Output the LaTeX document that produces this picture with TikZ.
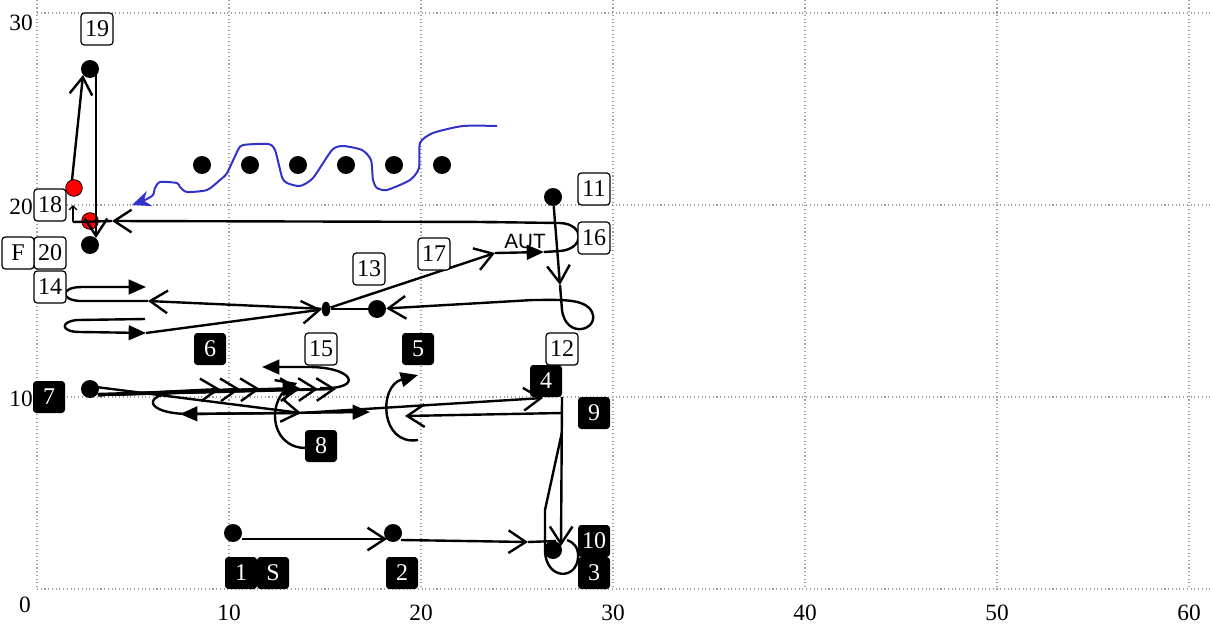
\documentclass[tikz,border=0pt]{standalone}
\usepackage{fontspec}
\setmainfont{Liberation Serif}
\newfontfamily\autfont{Liberation Sans}
\usetikzlibrary{arrows.meta,calc,shapes.geometric}
\begin{document}
\begin{tikzpicture}[x=0.75pt,y=-0.75pt,
  gridl/.style={gray!75, dotted, line width=0.8pt},
  axl/.style={font=\fontsize{17.5}{17.5}\selectfont, inner sep=0pt},
  dot/.style={circle, fill=black, inner sep=0pt, minimum size=13.5pt},
  reddot/.style={circle, fill=red, draw=black, line width=0.6pt, inner sep=0pt, minimum size=12.5pt},
  smalldot/.style={ellipse, fill=black, inner sep=0pt, minimum width=6.5pt, minimum height=11pt},
  boxbase/.style={rectangle, rounded corners=2.5pt, minimum width=24pt, minimum height=24pt, inner sep=1pt, font=\fontsize{18}{18}\selectfont},
  blk/.style={boxbase, fill=black, text=white},
  wht/.style={boxbase, fill=white, draw=black, line width=0.9pt},
  ln/.style={line width=1.8pt, line join=round},
  pass/.style={ln, -{Straight Barb[length=13pt,width=17pt]}},
  passfill/.style={ln, -{Triangle[length=13pt,width=11pt]}},
  thinarrow/.style={line width=1pt, -{Straight Barb[length=3pt,width=6pt]}},
  blueline/.style={line width=1.5pt, draw={rgb,255:red,50;green,50;blue,200}, -{Stealth[length=14pt,width=12pt]}}
]
\useasboundingbox (0,0) rectangle (1210,635);
% grid
\foreach \gx in {37,229,421,613,805,997,1189} \draw[gridl] (\gx,0) -- (\gx,589);
\foreach \gy in {13,205,397,589} \draw[gridl] (37,\gy) -- (1210,\gy);
% axis labels
\node[axl, anchor=east] (ay30) at (33,23) {30};
\node[axl, anchor=east] (ay20) at (33,207) {20};
\node[axl, anchor=east] (ay10) at (33,399) {10};
\node[axl] (a0) at (25,605) {0};
\foreach \gx/\t in {229/10,421/20,613/30,805/40,997/50,1189/60} \node[axl] (ax\t) at (\gx,613) {\t};
% dots
\node[dot] (d1) at (233,533) {};
\node[dot] (d2) at (393,533) {};
\node[dot] (d3) at (553,550) {};
\node[dot] (d7) at (90,389) {};
\node[dot] (d11) at (553,197) {};
\node[dot] (d13) at (377,309) {};
\node[dot] (d19) at (90,69) {};
\node[dot] (d20) at (90,245) {};
\node[smalldot] (s) at (326,309) {};
\foreach \i/\rx in {1/202,2/250,3/298,4/346,5/394,6/442} \node[dot] (r\i) at (\rx,165) {};
\node[reddot] (red18) at (74,188) {};
\node[reddot] (red20) at (90,221) {};
% helper coordinates
\coordinate (c4) at (562,397);
\coordinate (c9) at (562,413);
\coordinate (c2) at (528,542);
\coordinate (c4b) at (543,398);
\coordinate (c11) at (560,285);
\coordinate (c12) at (533,300);
\coordinate (c14a) at (148,301);
\coordinate (c14b) at (146,333);
\coordinate (c17) at (495,253);
\coordinate (c16) at (544,252);
\coordinate (c18) at (112,221);
\coordinate (c18b) at (73,222);
% bottom passes
\draw[pass] ($(d1)+(9,6)$) -- ($(d2)+(-6,6)$);
\draw[pass] ($(d2)+(8,7)$) -- (c2);
\draw[ln] (c2) -- ($(d3)+(3,-9)$);
\draw[pass] (c4) -- ($(d3)+(8,-4)$);
\draw[ln] (562,432) -- (545,510) -- (545,552) .. controls (547,580) and (576,580) .. (578,558) .. controls (579,547) and (573,542) .. (567,540);
% middle band
\draw[pass] (c9) -- (405,416);
\draw[pass] (300,413) -- (c4b);
\draw[passfill] (418,440) .. controls (380,446) and (378,386) .. (418,375);
\foreach \t in {220,240,260,300,318,336} \draw[pass] ($(d7)+(8,6)$) -- (\t,389);
\draw[passfill] ($(d7)+(8,5)$) -- (300,388);
\draw[pass] ($(d7)+(6,-2)$) -- (301,413);
\draw[passfill] (180,392) .. controls (140,394) and (145,414) .. (190,414) -- (370,412);
\draw[passfill] (300,413) -- (180,414);
\draw[passfill] (320,388) .. controls (365,390) and (355,366) .. (305,367) -- (262,367);
\draw[pass] (306,448) .. controls (268,448) and (266,396) .. (297,383);
% upper band
\draw[pass] (d11) -- (c11);
\draw[ln] (c11) -- (562,310) .. controls (566,340) and (600,330) .. (592,312) .. controls (585,298) and (560,300) .. (c12);
\draw[pass] (c12) -- (d13);
\draw[ln] (d13) -- (s);
\draw[pass] (s) -- (c14a);
\draw[passfill] (c14a) -- (80,301) .. controls (60,300) and (60,287) .. (82,287) -- (146,287);
\draw[passfill] (145,319) -- (78,320) .. controls (60,321) and (60,332) .. (80,332) -- (c14b);
\draw[pass] (c14b) -- (s);
\draw[pass] (s) -- (c17);
\draw[passfill] (c17) -- (c16);
\draw[ln] (c16) -- (560,251) .. controls (585,249) and (585,224) .. (560,223) -- (482,222);
\draw[pass] (497,222) -- (c18);
\draw[ln] (c18) -- (c18b);
\draw[thinarrow] (c18b) -- (73,205);
\draw[pass] ($(red18)+(-2,-8)$) -- ($(d19)+(-7,6)$);
\draw[pass] ($(d19)+(6,0)$) -- ($(d20)+(6,-7)$);
% blue run
\draw[blueline] plot[smooth, tension=0.4] coordinates {(497,126) (463,126) (433,133) (420,143) (419,168) (410,180) (387,190) (377,188) (373,180) (371,160) (362,150) (343,146) (332,150) (313,178) (300,186) (287,183) (282,177) (275,150) (268,144) (243,145) (238,150) (227,173) (220,180) (207,190) (187,192) (180,187) (177,183) (160,182) (155,188) (153,195) (145,200) (132,205)};
% labels
\node[blk] (b1) at (241,573) {1};
\node[blk] (bS) at (273,573) {S};
\node[blk] (b2) at (402,573) {2};
\node[blk] (b3) at (594,573) {3};
\node[blk] (b10) at (594,541) {10};
\node[blk] (b9) at (594,413) {9};
\node[blk] (b4) at (546,381) {4};
\node[blk] (b5) at (418,349) {5};
\node[blk] (b6) at (210,349) {6};
\node[blk] (b7) at (49,397) {7};
\node[blk] (b8) at (321,446) {8};
\node[wht] (w11) at (594,189) {11};
\node[wht] (w12) at (562,349) {12};
\node[wht] (w13) at (369,269) {13};
\node[wht] (w14) at (50,287) {14};
\node[wht] (w15) at (321,349) {15};
\node[wht] (w16) at (594,238) {16};
\node[wht] (w17) at (434,254) {17};
\node[wht] (w18) at (50,205) {18};
\node[wht] (w19) at (97,29) {19};
\node[wht] (w20) at (50,253) {20};
\node[wht] (wF) at (18,253) {F};
\node[font=\autfont\fontsize{15.5}{15.5}\selectfont, inner sep=0pt] (aut) at (525,241) {AUT};
\end{tikzpicture}
\end{document}
